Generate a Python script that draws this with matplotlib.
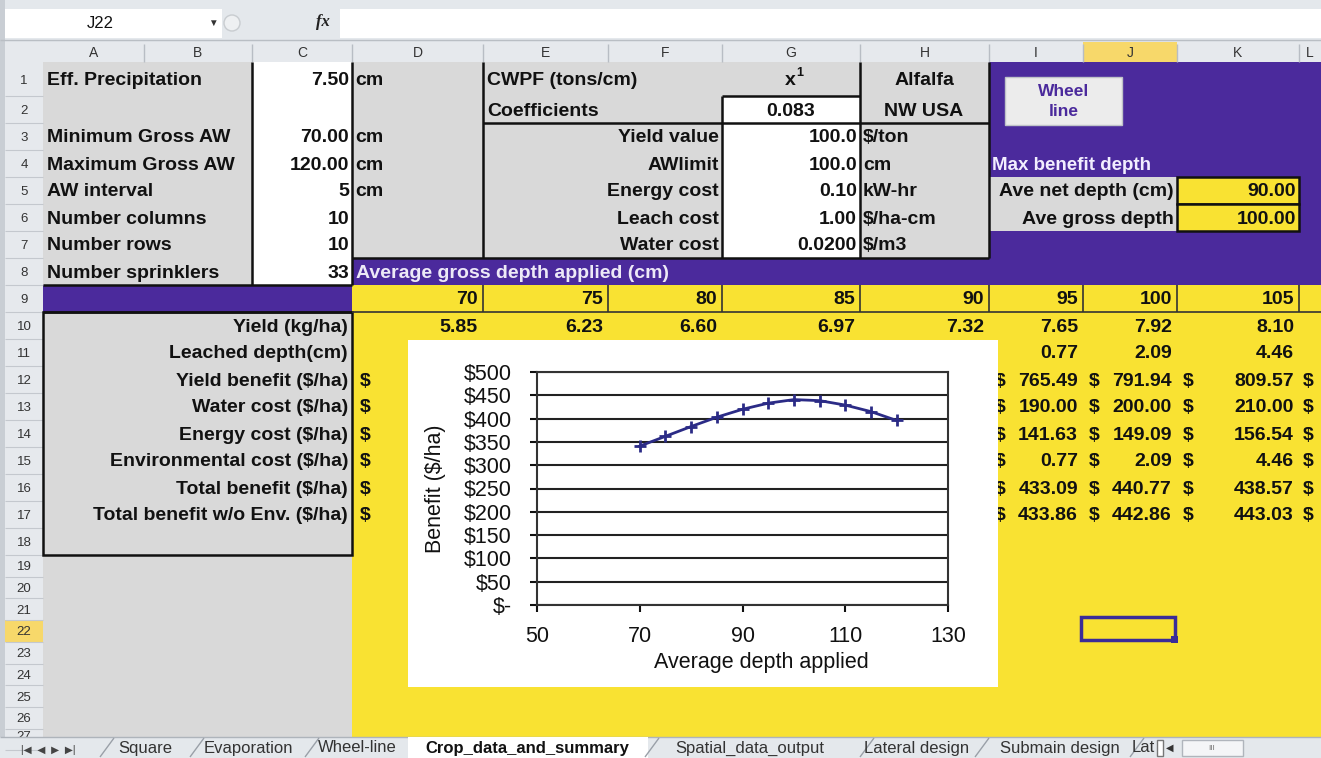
import matplotlib
matplotlib.use("Agg")
import matplotlib.pyplot as plt
from matplotlib.patches import Rectangle
from matplotlib.ticker import FuncFormatter, MultipleLocator

plt.rcParams['font.family'] = ['Liberation Sans', 'DejaVu Sans']

# ---- data ----
input_labels = ["Eff. Precipitation", "", "Minimum Gross AW", "Maximum Gross AW",
                "AW interval", "Number columns", "Number rows", "Number sprinklers"]
input_values = ["7.50", "", "70.00", "120.00", "5", "10", "10", "33"]
input_units = ["cm", "", "cm", "cm", "cm", "", "", ""]

param_labels = ["Yield value", "AWlimit", "Energy cost", "Leach cost", "Water cost"]
param_values = ["100.0", "100.0", "0.10", "1.00", "0.0200"]
param_units = ["$/ton", "cm", "kW-hr", "$/ha-cm", "$/m3"]

gross_depths = [70, 75, 80, 85, 90, 95, 100, 105]
yield_kg = [5.85, 6.23, 6.60, 6.97, 7.32, 7.65, 7.92, 8.10]

summary_labels = ["Yield (kg/ha)", "Leached depth(cm)", "Yield benefit ($/ha)",
                  "Water cost ($/ha)", "Energy cost ($/ha)", "Environmental cost ($/ha)",
                  "Total benefit ($/ha)", "Total benefit w/o Env. ($/ha)"]
# columns I, J, K (visible right of the chart)
leached = [0.77, 2.09, 4.46]
yield_benefit = [765.49, 791.94, 809.57]
water_cost = [190.00, 200.00, 210.00]
energy_cost = [141.63, 149.09, 156.54]
env_cost = [0.77, 2.09, 4.46]
total_benefit = [433.09, 440.77, 438.57]
total_wo_env = [433.86, 442.86, 443.03]

chart_depth = [70, 75, 80, 85, 90, 95, 100, 105, 110, 115, 120]
chart_benefit = [341, 362, 383, 403, 420, 433.09, 440.77, 438.57, 429, 415, 396]
chart_xticks = [50, 70, 90, 110, 130]

sheet_tabs = ["Square", "Evaporation", "Wheel-line", "Crop_data_and_summary",
              "Spatial_data_output", "Lateral design", "Submain design", "Lat"]

PURPLE = '#4B2A9C'
YELLOW = '#F9E232'
GREY = '#D9D9D9'
HDR = '#E6E9ED'

fig = plt.figure(figsize=(13.21, 7.58), dpi=100)
fig.patch.set_facecolor('#DDE1E6')
ax = fig.add_axes([0, 0, 1, 1])
ax.set_xlim(0, 1321)
ax.set_ylim(758, 0)
ax.axis('off')

cols = {'A': (43, 144), 'B': (144, 252), 'C': (252, 352), 'D': (352, 483),
        'E': (483, 608), 'F': (608, 722), 'G': (722, 860), 'H': (860, 989),
        'I': (989, 1083), 'J': (1083, 1177), 'K': (1177, 1299), 'L': (1299, 1421)}
row_edges = [62, 96]
for i in range(17):
    row_edges.append(row_edges[-1] + 27)
for i in range(9):
    row_edges.append(row_edges[-1] + 21.7)


def top(r):
    return row_edges[r - 1]


def bot(r):
    return row_edges[r]


def mid(r):
    return (row_edges[r - 1] + row_edges[r]) / 2 + 1.5


def box(x0, y0, x1, y1, fc, ec='none', lw=0, z=1):
    ax.add_patch(Rectangle((x0, y0), x1 - x0, y1 - y0, facecolor=fc,
                           edgecolor=ec, linewidth=lw, zorder=z))


def line(x0, y0, x1, y1, c='#111111', lw=1.8, z=3):
    ax.plot([x0, x1], [y0, y1], color=c, lw=lw, zorder=z, solid_capstyle='butt')


def txt(x, y, s, ha='left', size=14, weight='bold', color='#111111', z=4, **kw):
    return ax.text(x, y, s, ha=ha, va='center', fontsize=size, fontweight=weight,
                   color=color, zorder=z, **kw)


# ---- formula bar ----
box(0, 0, 1321, 42, '#E4E8EC')
box(5, 9, 222, 38, 'white')
box(340, 9, 1321, 38, 'white')
line(0, 40, 1321, 40, '#B9BEC4', 1)
txt(100, 23, "J22", ha='center', size=12, weight='normal')
txt(213, 23, "\u25BC", ha='center', size=7, weight='normal', color='#333')
ax.add_patch(plt.Circle((232, 23), 8, facecolor='#EEF0F2', edgecolor='#C8CCD0', zorder=3))
txt(323, 22, "fx", ha='center', size=12, weight='bold', color='#222', style='italic', family='Liberation Serif')

# ---- column / row headers ----
box(0, 42, 1321, 62, HDR)
box(0, 42, 43, 737, HDR)
box(0, 0, 5, 758, '#C9CED4')
box(*[cols['J'][0], 42, cols['J'][1], 62], '#F7D86A')
box(5, top(22), 43, bot(22), '#F7D86A')
for name, (x0, x1) in cols.items():
    txt((x0 + min(x1, 1321)) / 2, 53, name, ha='center', size=10, weight='normal', color='#333')
    line(x1, 44, x1, 62, '#B8BDC4', 1)
row_clip = Rectangle((0, 62), 43, 675, transform=ax.transData)
for r in range(1, 28):
    ry = mid(r) if r < 27 else 737
    t = txt(24, ry, str(r), ha='center', size=9.5, weight='normal', color='#333', z=1.5)
    t.set_clip_path(row_clip)
    line(5, bot(r), 43, bot(r), '#C4C8CE', 0.8)

# ---- cell fills ----
box(43, top(1), 252, bot(8), GREY)
box(252, top(1), 352, bot(8), 'white')
box(352, top(1), 989, bot(7), GREY)
box(722, top(2), 860, bot(7), 'white')
box(989, top(1), 1321, bot(8), PURPLE)
box(352, top(8), 989, bot(8), PURPLE)
box(43, top(9), 352, bot(9), PURPLE)
box(352, top(9), 1321, 737, YELLOW)
box(43, top(10), 352, 737, GREY)

# borders of input blocks
for x in (252, 352):
    line(x, top(1), x, bot(8))
line(43, bot(8), 352, bot(8))
line(483, top(1), 483, bot(7))
line(722, top(2), 722, bot(7))
line(860, top(1), 860, bot(7))
line(989, top(1), 989, bot(7))
line(352, bot(7), 989, bot(7))
line(483, bot(2), 989, bot(2))
line(722, top(2), 860, top(2))
box(43, top(10), 352, bot(18), 'none', '#111111', 1.8, z=3)
line(43, bot(9), 352, bot(9))

# row 9 header cells
for c in ['D', 'E', 'F', 'G', 'H', 'I', 'J', 'K']:
    line(cols[c][1], top(9), cols[c][1], bot(9), '#333', 1.2)
line(352, bot(9), 1321, bot(9), '#333', 1.2)

# ---- input block text ----
for i in range(8):
    r = i + 1
    txt(47, mid(r), input_labels[i])
    txt(349, mid(r), input_values[i], ha='right')
    txt(355, mid(r), input_units[i])
txt(487, mid(1), "CWPF (tons/cm)")
txt(487, mid(2), "Coefficients")
txt(790, mid(1), "x", ha='center')
txt(800, mid(1) - 7, "1", ha='center', size=9)
txt(791, mid(2), "0.083", ha='center')
txt(924, mid(1), "Alfalfa", ha='center')
txt(924, mid(2), "NW USA", ha='center')
for i in range(5):
    r = i + 3
    txt(719, mid(r), param_labels[i], ha='right')
    txt(857, mid(r), param_values[i], ha='right')
    txt(863, mid(r), param_units[i])

# ---- right purple panel ----
box(1005, 77, 1122, 125, '#ECECEC', '#BFC3C8', 1, z=3)
txt(1064, 91, "Wheel", ha='center', size=12.5, color=PURPLE)
txt(1064, 111, "line", ha='center', size=12.5, color=PURPLE)
txt(992, mid(4), "Max benefit depth", color='#F2EEFF', size=13.5)
box(989, top(5), 1177, bot(6), GREY)
box(1177, top(5), 1299, bot(5), YELLOW, '#111111', 1.8, z=3)
box(1177, top(6), 1299, bot(6), YELLOW, '#111111', 1.8, z=3)
txt(1174, mid(5), "Ave net depth (cm)", ha='right')
txt(1174, mid(6), "Ave gross depth", ha='right')
txt(1296, mid(5), "90.00", ha='right')
txt(1296, mid(6), "100.00", ha='right')
txt(356, mid(8), "Average gross depth applied (cm)", color='#EDE9F7')

# ---- results block ----
col_keys = ['D', 'E', 'F', 'G', 'H', 'I', 'J', 'K']
for c, d, yv in zip(col_keys, gross_depths, yield_kg):
    txt(cols[c][1] - 5, mid(9), str(d), ha='right')
    txt(cols[c][1] - 5, mid(10), f"{yv:.2f}", ha='right')
for i, lab in enumerate(summary_labels):
    txt(348, mid(10 + i), lab, ha='right')
for r in range(12, 18):
    txt(360, mid(r), "$")
    txt(1303, mid(r), "$")
money_rows = [yield_benefit, water_cost, energy_cost, env_cost, total_benefit, total_wo_env]
for j, c in enumerate(['I', 'J', 'K']):
    x0, x1 = cols[c]
    txt(x1 - 5, mid(11), f"{leached[j]:.2f}", ha='right')
    for k, vals in enumerate(money_rows):
        txt(x0 + 6, mid(12 + k), "$")
        txt(x1 - 5, mid(12 + k), f"{vals[j]:.2f}", ha='right')

# selected cell J22
box(1081, 617, 1175, 640, 'none', '#3B2C98', 2.5, z=5)
box(1171, 636, 1178, 643, '#3B2C98', z=6)

# ---- embedded chart ----
box(408, 340, 998, 687, 'white', z=6)
W, H = 1321.0, 758.0
px0, px1, py0, py1 = 537, 948, 372, 605
cax = fig.add_axes([px0 / W, (H - py1) / H, (px1 - px0) / W, (py1 - py0) / H])
cax.set_facecolor('white')
cax.plot(chart_depth, chart_benefit, color='#2B2B86', lw=2, marker='+',
         ms=8, mew=2, zorder=3)
cax.set_xlim(50, 130)
cax.set_ylim(0, 500)
cax.set_xticks(chart_xticks)
cax.yaxis.set_major_locator(MultipleLocator(50))
cax.yaxis.set_major_formatter(FuncFormatter(lambda v, p: f"${v:.0f}" if v > 0 else "$-"))
cax.grid(axis='y', color='#222222', lw=1.5)
for s in cax.spines.values():
    s.set_color('#333333')
    s.set_linewidth(1.5)
cax.tick_params(axis='y', direction='out', length=5, width=1.5, pad=13,
                labelsize=15.5, colors='#111111')
cax.tick_params(axis='x', direction='out', length=5, width=1.5, pad=10,
                labelsize=15.5, colors='#111111')
cax.set_ylabel("Benefit ($/ha)", fontsize=15.5, color='#111111')
cax.yaxis.set_label_coords(-0.222, 0.5)
cax.set_xlabel("Average depth applied", fontsize=15.5, color='#111111')
cax.xaxis.set_label_coords(0.545, -0.20)

# ---- sheet tabs ----
box(0, 737, 1321, 758, '#E4E8EC', z=2)
line(0, 737, 1321, 737, '#AEB4BB', 1)
txt(48, 750, "|\u25C0  \u25C0  \u25B6  \u25B6|", ha='center', size=7.5, weight='normal', color='#444')
tab_x = [145, 248, 357, 527, 750, 917, 1060, 1143]
for name, x in zip(sheet_tabs, tab_x):
    if name == "Crop_data_and_summary":
        box(408, 737, 648, 758, 'white', z=3)
        txt(x, 748, name, ha='center', size=12, weight='bold')
    else:
        txt(x, 748, name, ha='center', size=12, weight='normal', color='#333')
for x in [100, 190, 305, 645, 860, 975, 1130]:
    line(x, 757, x + 14, 738, '#9AA0A8', 1)
box(1157, 740, 1163, 756, 'white', '#777', 1, z=3)
txt(1170, 748, "\u25C0", ha='center', size=7, weight='normal', color='#333')
box(1182, 740, 1243, 756, '#F4F5F7', '#B0B5BC', 1, z=3)
txt(1212, 748, "III", ha='center', size=6, weight='normal', color='#777')

fig.savefig("out.png", dpi=100)
